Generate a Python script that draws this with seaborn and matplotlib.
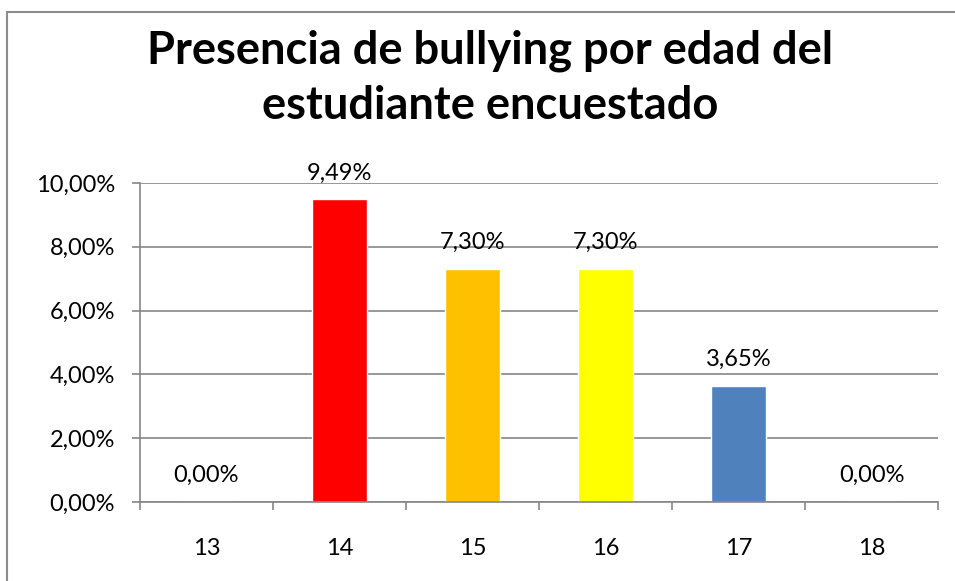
import matplotlib
matplotlib.use("Agg")
import matplotlib.pyplot as plt
from matplotlib.patches import Rectangle
from matplotlib.ticker import FixedLocator, MultipleLocator
import seaborn as sns
import pandas as pd

# Data
edades = ["13", "14", "15", "16", "17", "18"]
porcentajes = [0.0, 9.49, 7.30, 7.30, 3.65, 0.0]
colores = ["#4F81BD", "#FF0000", "#FFC000", "#FFFF00", "#4F81BD", "#4F81BD"]
titulo = ["Presencia de bullying por edad del", "estudiante encuestado"]

sns.set_theme(style="white")
plt.rcParams["font.family"] = ["Lato", "DejaVu Sans"]

W, H = 955, 581
fig = plt.figure(figsize=(W / 100, H / 100), dpi=100)
ax = fig.add_axes([140 / W, 1 - 502 / H, (938 - 140) / W, (502 - 183) / H])

df = pd.DataFrame({"edad": edades, "valor": [v / 100 for v in porcentajes]})
sns.barplot(data=df, x="edad", y="valor", hue="edad", palette=colores,
            legend=False, width=0.41, ax=ax, saturation=1)

grid_c = "#868686"
ax.set_ylim(0, 0.10)
ax.set_xlim(-0.5, len(edades) - 0.5)
ax.yaxis.set_major_locator(MultipleLocator(0.02))
ax.yaxis.set_major_formatter(
    matplotlib.ticker.FuncFormatter(lambda v, p: f"{v * 100:.2f}%".replace(".", ",")))
ax.grid(axis="y", color=grid_c, lw=1.2)
ax.set_axisbelow(True)
for s in ["top", "right"]:
    ax.spines[s].set_visible(False)
for s in ["left", "bottom"]:
    ax.spines[s].set_color(grid_c)
    ax.spines[s].set_linewidth(1.2)

# category boundary ticks on x
ax.xaxis.set_minor_locator(FixedLocator([i - 0.5 for i in range(len(edades) + 1)]))
ax.tick_params(axis="x", which="minor", bottom=True, length=6, width=1.2, color=grid_c)
ax.tick_params(axis="x", which="major", length=0, pad=26, labelsize=17, labelcolor="black")
ax.tick_params(axis="y", which="major", left=True, length=6, width=1.2, color=grid_c,
               pad=12, labelsize=17, labelcolor="black")
ax.set_xlabel("")
ax.set_ylabel("")

# value labels
for i, v in enumerate(porcentajes):
    ax.annotate(f"{v:.2f}%".replace(".", ","), (i, v / 100), xytext=(0, 19),
                textcoords="offset points", ha="center", va="center",
                fontsize=17, color="black", annotation_clip=False)

# title
fig.text(490 / W, 1 - 63 / H, titulo[0], ha="center", va="baseline",
         fontsize=32.6, fontweight="bold", color="black")
fig.text(490 / W, 1 - 119 / H, titulo[1], ha="center", va="baseline",
         fontsize=32.6, fontweight="bold", color="black")

# chart frame
fig.patches.append(Rectangle((6.5 / W, -0.1), 1.2, 1 - 12.5 / H + 0.1,
                             transform=fig.transFigure, fill=False,
                             edgecolor="#8C8C8C", lw=1.5))

fig.savefig("out.png", dpi=100)
